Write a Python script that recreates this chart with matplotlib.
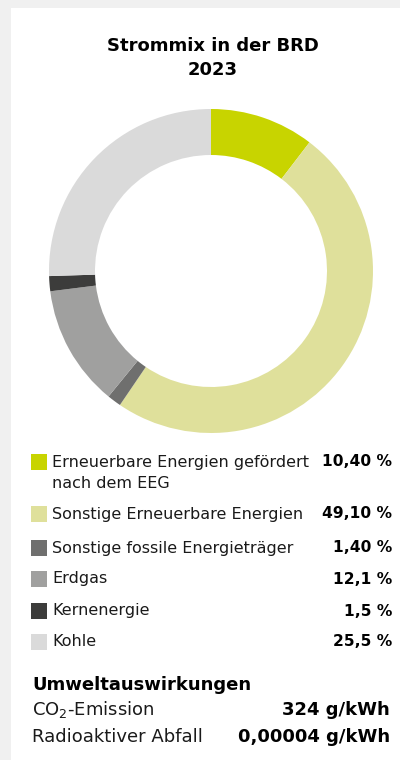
import matplotlib
matplotlib.use("Agg")
import matplotlib.pyplot as plt
from matplotlib.patches import Rectangle

plt.rcParams["font.family"] = ["DejaVu Sans"]
plt.rcParams["mathtext.fontset"] = "dejavusans"

categories = ["Erneuerbare Energien gefördert\nnach dem EEG", "Sonstige Erneuerbare Energien",
              "Sonstige fossile Energieträger", "Erdgas", "Kernenergie", "Kohle"]
values = [10.40, 49.10, 1.40, 12.1, 1.5, 25.5]
value_labels = ["10,40 %", "49,10 %", "1,40 %", "12,1 %", "1,5 %", "25,5 %"]
colors = ["#c8d400", "#dfe09b", "#6f6f6e", "#a0a09f", "#3c3c3b", "#dadada"]
title = "Strommix in der BRD\n2023"
impact_title = "Umweltauswirkungen"
impact_labels = [r"CO$_2$-Emission", "Radioaktiver Abfall"]
impact_values = ["324 g/kWh", "0,00004 g/kWh"]

W, H = 400, 760
fig = plt.figure(figsize=(W / 100, H / 100), dpi=100)
fig.patch.set_facecolor("#f0f0f0")

def fx(px):
    return px / W

def fy(py):
    return 1 - py / H

# white panel
fig.patches.append(Rectangle((fx(11), 0), 1 - fx(11), fy(8), transform=fig.transFigure,
                             facecolor="white", edgecolor="none", zorder=-5))

# title
fig.text(fx(213), fy(51), "Strommix in der BRD", ha="center", va="baseline",
         fontsize=13, fontweight="bold", color="black")
fig.text(fx(213), fy(75), "2023", ha="center", va="baseline",
         fontsize=13, fontweight="bold", color="black")

# donut
cx, cy, R, r_in = 211, 271, 162, 116
ax = fig.add_axes([fx(cx - R), fy(cy + R), 2 * R / W, 2 * R / H])
ax.pie(values, colors=colors, startangle=90, counterclock=False, radius=1,
       wedgeprops=dict(width=(R - r_in) / R, linewidth=0))
ax.set_xlim(-1, 1)
ax.set_ylim(-1, 1)
ax.set_aspect("auto")
ax.axis("off")

# legend
row_y = [462, 514, 548, 579, 611, 642]
fs = 11.5
for cat, val, col, y in zip(categories, value_labels, colors, row_y):
    fig.patches.append(Rectangle((fx(31), fy(y + 8)), 16 / W, 16 / H, transform=fig.transFigure,
                                 facecolor=col, edgecolor="none"))
    lines = cat.split("\n")
    fig.text(fx(52), fy(y), lines[0], ha="left", va="center", fontsize=fs, color="#1a1a1a")
    if len(lines) > 1:
        fig.text(fx(52), fy(y + 22), lines[1], ha="left", va="center", fontsize=fs, color="#1a1a1a")
    fig.text(fx(392), fy(y), val, ha="right", va="center", fontsize=11.2,
             fontweight="bold", color="black")

# impacts
fig.text(fx(32), fy(690), impact_title, ha="left", va="baseline", fontsize=13,
         fontweight="bold", color="black")
for lab, val, y in zip(impact_labels, impact_values, [715, 742]):
    fig.text(fx(32), fy(y), lab, ha="left", va="baseline", fontsize=13, color="#1a1a1a")
    fig.text(fx(390), fy(y), val, ha="right", va="baseline", fontsize=13,
             fontweight="bold", color="black")

fig.savefig("out.png", dpi=100, facecolor=fig.get_facecolor())
